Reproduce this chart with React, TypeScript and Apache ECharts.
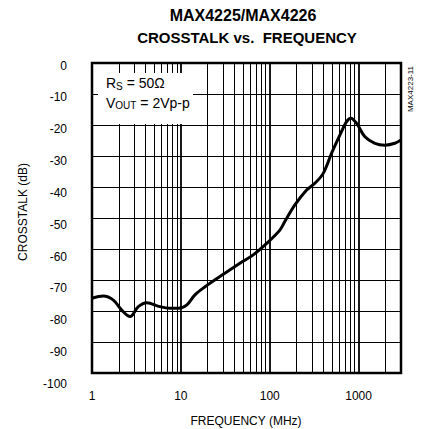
import { useEffect, useRef } from 'react';
import * as echarts from 'echarts';

// Crosstalk curve (frequency in MHz, crosstalk in dB)
const FREQ_MHZ = [
  1, 1.34, 1.74, 2.16, 2.68, 3.32, 4.12, 5.82, 7.54, 9.35, 11.6, 14.4, 18.7, 27.5,
  46.2, 65.2, 92.3, 130, 150, 192, 260, 322, 400, 497, 617, 733, 819, 950, 1178,
  1525, 1976, 2560, 3000,
];
const CROSSTALK_DB = [
  -75.9, -75.2, -76.5, -79.7, -81.8, -78.6, -77.3, -78.6, -79.1, -79.1, -78.1, -74.8,
  -72.2, -68.9, -64.6, -61.9, -58.2, -53.9, -50.8, -45.8, -41.0, -38.8, -35.6, -29.1,
  -23.2, -18.9, -17.8, -19.5, -23.8, -25.9, -26.5, -25.9, -24.8,
];

// Vertical grid lines (log decades)
const GRID_FREQS_MINOR = [
  2, 3, 4, 5, 6, 7, 8, 9, 20, 30, 40, 50, 60, 70, 80, 90, 200, 300, 400, 500, 600,
  700, 800, 900, 2000,
];
const GRID_FREQS_MAJOR = [10, 100, 1000];

const X_MIN = 1;
const X_MAX = 3000;
const Y_MIN = -100;
const Y_MAX = 0;
const Y_STEP = 10;

const TITLE_1 = 'MAX4225/MAX4226';
const TITLE_2 = 'CROSSTALK vs.  FREQUENCY';
const X_NAME = 'FREQUENCY (MHz)';
const Y_NAME = 'CROSSTALK (dB)';
const NOTE = 'MAX4223-11';

const FONT = '"Liberation Sans", Arial, Helvetica, sans-serif';

export default function App() {
  const ref = useRef<HTMLDivElement>(null);

  useEffect(() => {
    if (!ref.current) return;
    const chart = echarts.init(ref.current, null, { renderer: 'svg' });
    const curve = FREQ_MHZ.map((f, i) => [f, CROSSTALK_DB[i]]);

    const txt = (text: string, x: number, y: number, size: number, extra: any = {}) => ({
      type: 'text',
      x,
      y,
      rotation: extra.rotation || 0,
      z: 20,
      style: {
        text,
        fill: '#000',
        fontSize: size,
        fontWeight: extra.bold ? 'bold' : 'normal',
        fontFamily: FONT,
        align: 'center',
        textAlign: 'center',
        verticalAlign: 'middle',
        textVerticalAlign: 'middle',
      },
    });

    const rich = {
      a: { fontSize: 14, lineHeight: 16, fontFamily: FONT, fill: '#000' },
      b: { fontSize: 10, lineHeight: 10, verticalAlign: 'bottom', fontFamily: FONT, fill: '#000' },
    };

    chart.setOption({
      animation: false,
      backgroundColor: '#fff',
      grid: [
        {
          left: 92,
          right: 20,
          top: 63,
          bottom: 56,
          show: true,
          borderColor: '#000',
          borderWidth: 2.5,
          backgroundColor: 'transparent',
        },
        { left: 92, right: 20, top: 65.5, bottom: 45, show: false },
      ],
      xAxis: [
        {
          type: 'log',
          logBase: 10,
          min: X_MIN,
          max: X_MAX,
          gridIndex: 0,
          axisLine: { show: false },
          axisTick: { show: false },
          splitLine: { show: false },
          minorTick: { show: false },
          minorSplitLine: { show: false },
          axisLabel: {
            color: '#000',
            fontSize: 12,
            fontFamily: FONT,
            margin: 17,
            formatter: (v: number) => {
              const l = Math.log10(v);
              return Math.abs(l - Math.round(l)) < 1e-6 ? String(Math.round(v)) : '';
            },
          },
        },
        { type: 'value', gridIndex: 1, show: false, min: 0, max: 1 },
      ],
      yAxis: [
        {
          type: 'value',
          gridIndex: 0,
          min: Y_MIN,
          max: Y_MAX,
          interval: Y_STEP,
          axisLine: { show: false },
          axisTick: { show: false },
          axisLabel: { show: false },
          splitLine: { show: true, lineStyle: { color: '#000', width: 1 } },
        },
        {
          type: 'value',
          gridIndex: 1,
          min: Y_MIN,
          max: Y_MAX,
          interval: Y_STEP,
          axisLine: { show: false },
          axisTick: { show: false },
          splitLine: { show: false },
          axisLabel: { color: '#000', fontSize: 12, fontFamily: FONT, margin: 25 },
        },
      ],
      series: [
        {
          type: 'line',
          xAxisIndex: 0,
          yAxisIndex: 0,
          data: curve,
          symbol: 'none',
          showSymbol: false,
          silent: true,
          lineStyle: { opacity: 0, width: 0 },
          z: 1,
          markLine: {
            z: 1,
            silent: true,
            symbol: ['none', 'none'],
            label: { show: false },
            emphasis: { disabled: true },
            lineStyle: { color: '#000', width: 1, type: 'solid' },
            data: [
              ...GRID_FREQS_MINOR.map((v) => ({ xAxis: v })),
              ...GRID_FREQS_MAJOR.map((v) => ({ xAxis: v, lineStyle: { width: 1.8, color: '#000', type: 'solid' } })),
            ],
          },
        },
        {
          type: 'line',
          xAxisIndex: 0,
          yAxisIndex: 0,
          data: curve,
          smooth: 0.35,
          symbol: 'none',
          showSymbol: false,
          silent: true,
          lineStyle: { color: '#000', width: 3 },
          z: 10,
        },
      ],
      graphic: [
        { type: 'rect', z: 8, shape: { x: 98, y: 73, width: 95, height: 51 }, style: { fill: '#fff' } },
        {
          type: 'text',
          x: 106,
          y: 75,
          z: 20,
          style: { text: '{a|R}{b|S}{a| = 50Ω}', rich, fill: '#000', fontFamily: FONT },
        },
        {
          type: 'text',
          x: 106,
          y: 94.5,
          z: 20,
          style: { text: '{a|V}{b|OUT}{a| = 2Vp-p}', rich, fill: '#000', fontFamily: FONT },
        },
        txt(TITLE_1, 243, 15.5, 16, { bold: true }),
        txt(TITLE_2, 247, 37.5, 15, { bold: true }),
        txt(X_NAME, 246, 421, 12),
        txt(Y_NAME, 23, 212, 12, { rotation: Math.PI / 2 }),
        txt(NOTE, 410, 89, 8, { rotation: Math.PI / 2 }),
      ],
    });

    return () => chart.dispose();
  }, []);

  return (
    <div
      ref={ref}
      style={{ position: 'fixed', left: 0, top: 0, width: 421, height: 429, background: '#fff' }}
    />
  );
}
